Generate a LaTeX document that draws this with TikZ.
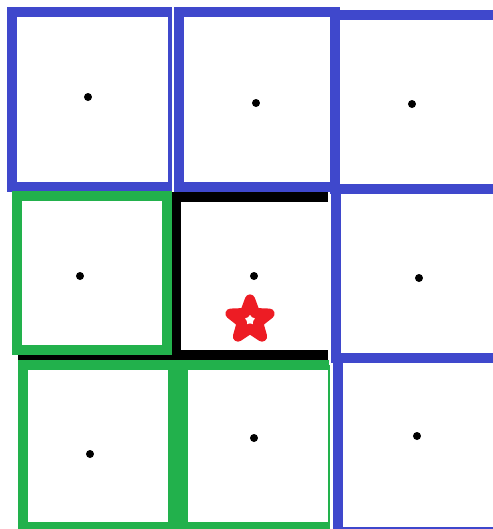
\documentclass[tikz,border=0pt]{standalone}
\usepackage{tikz}
\usetikzlibrary{shapes.geometric}
\definecolor{PaintBlue}{RGB}{63,72,204}
\definecolor{PaintGreen}{RGB}{34,177,76}
\definecolor{PaintRed}{RGB}{237,28,36}
\tikzset{
  bluesq/.style={draw=PaintBlue, line width=5.7pt},
  greensq/.style={draw=PaintGreen, line width=5.7pt},
  blacksq/.style={draw=black, line width=5.4pt},
  cellpt/.style={fill=black},
  goal/.style={star, star points=5, star point ratio=2.4, minimum size=0.82cm,
    inner sep=0pt, draw=PaintRed, line width=5.8pt, line join=round}
}
\begin{document}
\begin{tikzpicture}[x=0.02cm, y=-0.02cm]
  \clip (0,0) rectangle (493,529);
  \fill[white] (0,0) rectangle (493,529);
  % blue cells
  \draw[bluesq] (170,12) -- (12,12) -- (12,187) -- (170,187);
  \draw[draw=PaintBlue, line width=2.3pt] (170,7) -- (170,192);
  \draw[bluesq] (179,12) rectangle (335,187);
  \draw[bluesq] (335,15) rectangle (500,188.5);
  \draw[bluesq] (336,188.5) rectangle (500,358);
  \draw[bluesq] (338,358) rectangle (500,532);
  % black cell (open on the right)
  \draw[blacksq] (328,197) -- (176,197) -- (176,360);
  \draw[blacksq] (18,355) -- (328,355);
  % green cells
  \draw[greensq] (17,196) rectangle (167,350);
  \draw[greensq] (23,365) rectangle (173,527);
  \draw[greensq] (329,365) -- (183,365) -- (183,527) -- (329,527);
  \draw[draw=PaintGreen, line width=1pt] (329,365) -- (329,532);
  % goal
  \node[goal] (target) at (250,320) {};
  % cell centres
  \coordinate (a) at (88,97);
  \coordinate (b) at (256,103);
  \coordinate (c) at (412,104);
  \coordinate (d) at (80,276);
  \coordinate (e) at (254,276);
  \coordinate (f) at (419,278);
  \coordinate (g) at (90,454);
  \coordinate (h) at (254,438);
  \coordinate (i) at (417,436);
  \foreach \p in {a,b,c,d,e,f,g,h,i}
    \fill[cellpt] (\p) circle[radius=4];
\end{tikzpicture}
\end{document}
